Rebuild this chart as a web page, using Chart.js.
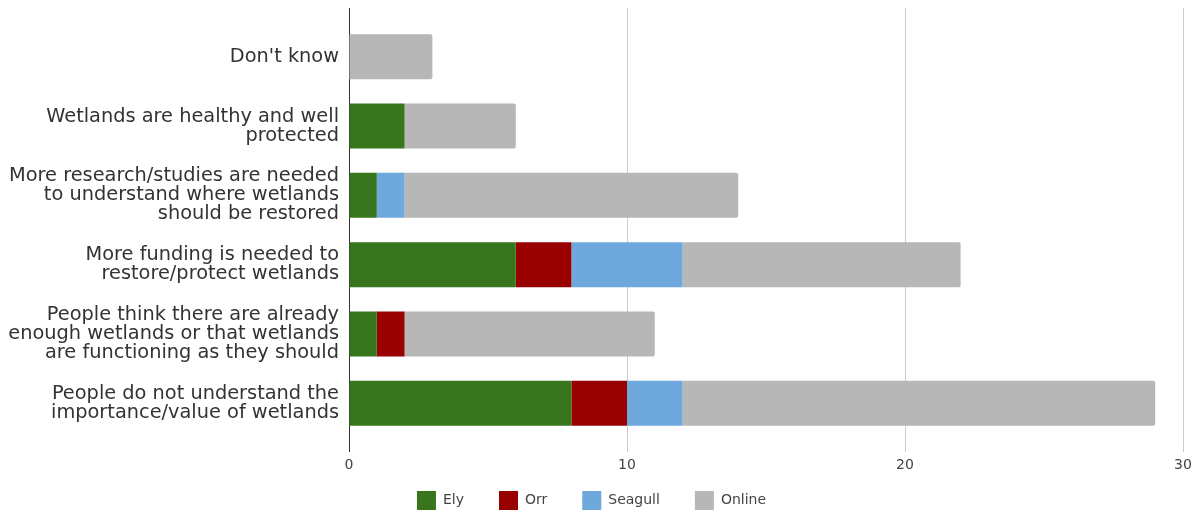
<!DOCTYPE html>
<html>
<head>
<meta charset="utf-8">
<script src="https://cdn.jsdelivr.net/npm/chart.js@4.4.1/dist/chart.umd.min.js"></script>
<style>
  html, body { margin: 0; padding: 0; background: #fff; }
  #wrap { width: 1203px; height: 514px; }
</style>
</head>
<body>
<div id="wrap"><canvas id="chart" width="1203" height="514"></canvas></div>
<script>
// Respuestas por categoría (etiquetas en varias líneas)
const categorias = [
  ["Don't know"],
  ["Wetlands are healthy and well", "protected"],
  ["More research/studies are needed", "to understand where wetlands", "should be restored"],
  ["More funding is needed to", "restore/protect wetlands"],
  ["People think there are already", "enough wetlands or that wetlands", "are functioning as they should"],
  ["People do not understand the", "importance/value of wetlands"]
];

const ely     = [0, 2, 1, 6, 1, 8];
const orr     = [0, 0, 0, 2, 1, 2];
const seagull = [0, 0, 1, 4, 0, 2];
const online  = [3, 4, 12, 10, 9, 17];

const xTicks = [0, 10, 20, 30];

// la línea del cero va oscura, el resto gris claro
const colorGrid = (c) => c.tick && c.tick.value === 0 ? '#333333' : '#cccccc';

// el eje x es bajito, se estira su caja para que no recorte los números
const estirarEjeX = {
  id: 'estirarEjeX',
  afterLayout(chart) {
    chart.scales.x.bottom = chart.height;
  }
};

const ctx = document.getElementById('chart').getContext('2d');
new Chart(ctx, {
  type: 'bar',
  data: {
    labels: categorias,
    datasets: [
      { label: 'Ely', data: ely, backgroundColor: '#38761d' },
      { label: 'Orr', data: orr, backgroundColor: '#990000' },
      { label: 'Seagull', data: seagull, backgroundColor: '#6fa8dc' },
      { label: 'Online', data: online, backgroundColor: '#b7b7b7', borderRadius: 2 }
    ]
  },
  plugins: [estirarEjeX],
  options: {
    indexAxis: 'y',
    responsive: false,
    animation: false,
    datasets: { bar: { categoryPercentage: 1, barPercentage: 0.65, borderSkipped: 'start' } },
    layout: { padding: { left: 0, right: 20, top: 8, bottom: 0 } },
    scales: {
      x: {
        stacked: true,
        min: 0,
        max: 30,
        afterBuildTicks: (scale) => { scale.ticks = xTicks.map(v => ({ value: v })); },
        afterFit: (scale) => { scale.height = 18; },
        border: { display: false },
        grid: { drawTicks: true, tickLength: 14, color: colorGrid, lineWidth: 1 },
        ticks: { color: '#444', font: { family: 'DejaVu Sans', size: 14 }, padding: 5 }
      },
      xTop: {
        axis: 'x',
        position: 'top',
        min: 0,
        max: 30,
        afterBuildTicks: (scale) => { scale.ticks = xTicks.map(v => ({ value: v })); },
        afterFit: (scale) => { scale.height = 14; },
        border: { display: false },
        grid: { drawTicks: true, tickLength: 14, drawOnChartArea: false, color: colorGrid },
        ticks: { display: false }
      },
      y: {
        stacked: true,
        border: { display: false },
        grid: { display: false, drawTicks: false },
        afterFit: (scale) => {
          scale.width = 349;
          scale.paddingTop = 0;
          scale.paddingBottom = 0;
        },
        ticks: {
          color: '#333',
          padding: 10,
          font: { family: 'DejaVu Sans', size: 19.35, lineHeight: 0.98 }
        }
      }
    },
    plugins: {
      legend: {
        position: 'bottom',
        maxHeight: 58,
        labels: {
          boxWidth: 19,
          boxHeight: 19,
          padding: 35,
          color: '#444',
          font: { family: 'DejaVu Sans', size: 14 }
        }
      },
      tooltip: { enabled: false }
    }
  }
});
</script>
</body>
</html>
